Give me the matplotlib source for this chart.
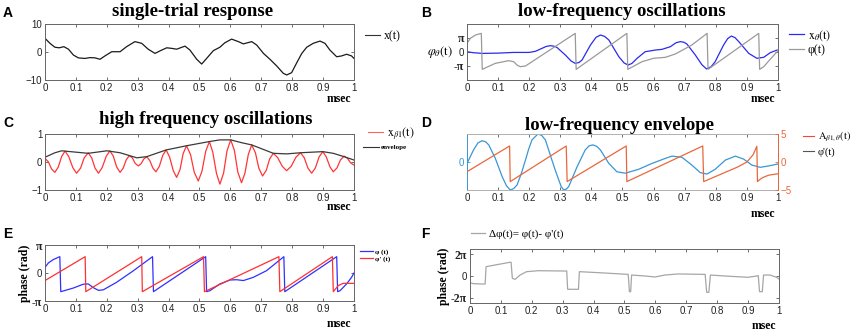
import numpy as np
import matplotlib
matplotlib.use('Agg')
import matplotlib.pyplot as plt
from matplotlib.lines import Line2D

plt.rcParams['font.family'] = 'Liberation Sans'
plt.rcParams['mathtext.fontset'] = 'stix'

PI = np.pi
W, H = 853, 335

# ---- data (time in msec, values in axis units) ----
# A: single-trial response x(t)
a_x = [(0, 4.9), (0.016, 3.1), (0.032, 1.7), (0.046, 1.5), (0.061, 1.9), (0.076, 1.0),
       (0.092, -1.1), (0.108, -2.1), (0.129, -2.3), (0.146, -2.0), (0.162, -2.1),
       (0.178, -2.6), (0.194, -1.4), (0.216, 0.1), (0.243, 0.1), (0.264, 1.9),
       (0.291, 3.7), (0.313, 3.1), (0.334, 1.0), (0.356, -0.5), (0.374, 0.5),
       (0.394, 1.5), (0.410, 1.3), (0.426, 1.0), (0.453, 2.1), (0.469, 0.7),
       (0.491, -2.6), (0.507, -4.3), (0.523, -2.3), (0.545, 0.5), (0.566, 1.7),
       (0.582, 3.3), (0.604, 4.6), (0.626, 3.7), (0.642, 2.9), (0.669, 3.7),
       (0.685, 2.5), (0.707, -0.5), (0.728, -2.6), (0.750, -5.0), (0.771, -7.6),
       (0.782, -8.2), (0.798, -7.4), (0.814, -4.0), (0.831, -0.5), (0.847, 1.7),
       (0.868, 3.1), (0.890, 3.9), (0.906, 3.1), (0.922, 0.7), (0.944, -1.7),
       (0.960, -1.4), (0.976, -0.8), (0.992, -1.4), (1.0, -2.3)]

# B: low-frequency oscillation x_theta(t) and phase phi(t), in units of pi
b_x = [(0, 0.02), (0.02, -0.05), (0.05, -0.1), (0.1, -0.08), (0.15, -0.03), (0.2, -0.03),
       (0.22, 0.05), (0.241, 0.26), (0.255, 0.4), (0.268, 0.45), (0.279, 0.42),
       (0.289, 0.33), (0.316, -0.21), (0.335, -0.65), (0.348, -0.81), (0.360, -0.75),
       (0.370, -0.57), (0.397, 0.5), (0.415, 1.05), (0.429, 1.21), (0.442, 1.12),
       (0.456, 0.86), (0.488, -0.33), (0.505, -0.78), (0.518, -0.93), (0.530, -0.82),
       (0.547, -0.45), (0.573, 0.02), (0.606, 0.14), (0.627, 0.19), (0.654, 0.38),
       (0.672, 0.66), (0.686, 0.74), (0.697, 0.70), (0.707, 0.57), (0.734, -0.21),
       (0.755, -0.9), (0.770, -1.21), (0.785, -1.05), (0.798, -0.69), (0.825, 0.5),
       (0.838, 0.95), (0.850, 1.14), (0.862, 1.02), (0.874, 0.74), (0.906, -0.1),
       (0.932, -0.45), (0.954, -0.38), (0.975, -0.05), (0.997, 0.14), (1.0, 0.1)]
b_phi = [(0, 0.62), (0.011, 0.98), (0.027, 1.21), (0.046, 1.33), (0.049, -1.24),
         (0.091, -0.81), (0.134, -0.62), (0.150, -0.69), (0.161, -0.93), (0.171, -1.05),
         (0.188, -1.0), (0.348, 1.33), (0.351, -1.24), (0.514, 1.33), (0.517, -1.24),
         (0.563, -0.69), (0.600, -0.45), (0.638, -0.38), (0.670, -0.14), (0.723, 0.5),
         (0.772, 1.33), (0.775, -1.24), (0.938, 1.33), (0.941, -1.24), (0.954, -1.05),
         (0.975, -0.52), (0.997, 0.02), (1.0, 0.14)]

# C: high frequency oscillation and its envelope
c_x = [(0, 0.13), (0.011, 0.005), (0.021, -0.245), (0.032, -0.37), (0.043, -0.18),
       (0.054, 0.20), (0.065, 0.39), (0.077, 0.19), (0.090, -0.20), (0.102, -0.40),
       (0.115, -0.22), (0.127, 0.15), (0.140, 0.33), (0.151, 0.15), (0.162, -0.22),
       (0.173, -0.40), (0.185, -0.20), (0.198, 0.20), (0.210, 0.40), (0.221, 0.21),
       (0.232, -0.18), (0.243, -0.37), (0.253, -0.22), (0.263, 0.08), (0.273, 0.23),
       (0.283, 0.14), (0.292, -0.05), (0.302, -0.14), (0.311, -0.06), (0.320, 0.11),
       (0.329, 0.19), (0.339, 0.055), (0.349, -0.215), (0.359, -0.35), (0.370, -0.155),
       (0.381, 0.235), (0.392, 0.43), (0.403, 0.185), (0.415, -0.305), (0.426, -0.55),
       (0.437, -0.27), (0.447, 0.30), (0.458, 0.58), (0.471, 0.265), (0.483, -0.365),
       (0.496, -0.68), (0.508, -0.33), (0.520, 0.38), (0.532, 0.73), (0.543, 0.35),
       (0.555, -0.41), (0.566, -0.79), (0.578, -0.395), (0.589, 0.395), (0.601, 0.79),
       (0.613, 0.41), (0.624, -0.36), (0.636, -0.74), (0.647, -0.40), (0.658, 0.27),
       (0.669, 0.61), (0.681, 0.33), (0.692, -0.22), (0.704, -0.50), (0.716, -0.30),
       (0.727, 0.11), (0.739, 0.31), (0.753, 0.155), (0.768, -0.155), (0.782, -0.31),
       (0.797, -0.15), (0.812, 0.17), (0.827, 0.33), (0.839, 0.15), (0.851, -0.22),
       (0.863, -0.40), (0.875, -0.21), (0.887, 0.18), (0.899, 0.37), (0.910, 0.19),
       (0.922, -0.17), (0.933, -0.35), (0.945, -0.21), (0.956, 0.07), (0.968, 0.21),
       (0.979, 0.13), (0.989, -0.03), (1.0, -0.11)]
c_env = [(0, 0.17), (0.032, 0.33), (0.054, 0.40), (0.092, 0.36), (0.140, 0.31),
         (0.200, 0.40), (0.243, 0.33), (0.297, 0.15), (0.329, 0.19), (0.392, 0.43),
         (0.458, 0.58), (0.532, 0.73), (0.566, 0.79), (0.601, 0.79), (0.636, 0.69),
         (0.669, 0.61), (0.739, 0.31), (0.782, 0.29), (0.827, 0.33), (0.899, 0.37),
         (0.933, 0.31), (0.968, 0.19), (1.0, 0.07)]

# D: low-frequency envelope (left axis) and its phase (right axis)
d_env = [(0, -0.05), (0.021, 0.43), (0.035, 0.68), (0.048, 0.76), (0.06, 0.72),
         (0.07, 0.61), (0.091, 0.13), (0.113, -0.52), (0.127, -0.85), (0.139, -1.0),
         (0.15, -0.95), (0.161, -0.82), (0.175, -0.4), (0.188, 0.07), (0.198, 0.45),
         (0.209, 0.79), (0.228, 1.0), (0.24, 0.95), (0.252, 0.79), (0.262, 0.45),
         (0.273, 0.07), (0.284, -0.3), (0.295, -0.64), (0.303, -0.88), (0.311, -1.0),
         (0.319, -0.97), (0.327, -0.88), (0.354, -0.17), (0.38, 0.43), (0.393, 0.58),
         (0.405, 0.61), (0.417, 0.56), (0.429, 0.43), (0.456, -0.05), (0.482, -0.35),
         (0.509, -0.40), (0.552, -0.26), (0.595, -0.05), (0.638, 0.13), (0.659, 0.21),
         (0.691, 0.17), (0.723, -0.11), (0.75, -0.38), (0.772, -0.43), (0.798, -0.26),
         (0.831, 0.07), (0.863, 0.21), (0.89, 0.10), (0.916, -0.11), (0.943, -0.19),
         (0.97, -0.14), (1.0, -0.07)]
d_phase = [(0, -1.73), (0.137, 2.86), (0.139, -3.5), (0.319, 2.86), (0.322, -3.5),
           (0.512, 2.86), (0.514, -3.5), (0.758, 2.86), (0.761, -3.5), (0.87, -0.9),
           (0.9, 0.0), (0.92, 1.3), (0.932, 2.8), (0.934, -3.5), (0.94, -3.2),
           (0.95, -2.8), (0.97, -2.35), (1.0, -2.1)]

# E: phase of x(t) and of the envelope, in units of pi
e_phi = [(0, 0.20), (0.011, 0.36), (0.027, 0.48), (0.043, 0.56), (0.048, 0.583),
         (0.051, -0.667), (0.092, -0.536), (0.124, -0.40), (0.140, -0.39), (0.156, -0.52),
         (0.173, -0.62), (0.189, -0.60), (0.232, -0.33), (0.286, 0.08), (0.348, 0.583),
         (0.351, -0.667), (0.520, 0.583), (0.523, -0.667), (0.534, -0.63), (0.566, -0.39),
         (0.599, -0.25), (0.620, -0.24), (0.642, -0.27), (0.674, -0.155), (0.717, 0.083),
         (0.773, 0.583), (0.776, -0.667), (0.944, 0.583), (0.947, -0.667), (0.955, -0.63),
         (0.976, -0.39), (0.992, -0.155), (1.0, 0.0)]
e_phi2 = [(0, -0.27), (0.130, 0.583), (0.132, -0.667), (0.313, 0.583), (0.315, -0.667),
          (0.513, 0.583), (0.516, -0.667), (0.757, 0.583), (0.760, -0.667), (0.930, 0.583),
          (0.933, -0.667), (0.949, -0.45), (0.965, -0.37), (1.0, -0.37)]

# F: phase difference, in units of pi
f_dphi = [(0, -0.62), (0.011, -0.71), (0.038, -0.74), (0.049, -0.74), (0.052, 0.86),
          (0.07, 0.96), (0.129, 1.27), (0.133, 1.27), (0.137, -0.22), (0.146, -0.31),
          (0.162, 0.09), (0.183, 0.40), (0.221, 0.49), (0.313, 0.46), (0.316, -1.23),
          (0.351, -1.23), (0.354, 0.40), (0.415, 0.31), (0.512, 0.15), (0.516, -1.45),
          (0.520, -1.45), (0.523, 0.09), (0.566, 0.0), (0.599, -0.09), (0.631, 0.09),
          (0.674, 0.19), (0.761, 0.15), (0.766, -1.51), (0.773, -1.51), (0.778, 0.09),
          (0.825, 0.0), (0.9, -0.12), (0.928, 0.0), (0.933, 0.03), (0.937, -1.45),
          (0.946, -1.45), (0.95, 0.09), (0.971, 0.09), (0.992, -0.12), (1.0, -0.28)]

x_ticks = [0, 0.1, 0.2, 0.3, 0.4, 0.5, 0.6, 0.7, 0.8, 0.9, 1]
x_tick_labels = ['0', '0.1', '0.2', '0.3', '0.4', '0.5', '0.6', '0.7', '0.8', '0.9', '1']

SERIF = 'Liberation Serif'
BLUE_D = '#3a96d4'
ORANGE_D = '#e8683c'


def xy(pairs, scale=1.0):
    t, v = zip(*pairs)
    return np.array(t), np.array(v) * scale


def rect(l, t, r, b):
    return [l / W, 1 - b / H, (r - l) / W, (b - t) / H]


def style(ax, msec_y):
    ax.set_xlim(0, 1)
    ax.set_xticks(x_ticks)
    ax.set_xticklabels(x_tick_labels)
    ax.tick_params(direction='in', length=2.5, width=0.6, top=True, right=True,
                   labelsize=7, pad=2, color='#555555', labelcolor='#222222')
    for s in ax.spines.values():
        s.set_color('#666666')
        s.set_linewidth(0.7)
    ax.text(0.99, msec_y, 'msec', transform=ax.transAxes, ha='right', va='center',
            fontfamily=SERIF, fontweight='bold', fontsize=8.5)


def pi_labels(ax, labels, size=8.5):
    ax.set_yticklabels(labels)
    for lbl in ax.get_yticklabels():
        if 'π' in lbl.get_text():
            lbl.set_fontfamily(SERIF)
            lbl.set_fontweight('bold')
            lbl.set_fontsize(size)


def title(x, y, s):
    fig.text(x / W, 1 - y / H, s, ha='center', va='center',
             fontfamily=SERIF, fontweight='bold', fontsize=13.5)


fig = plt.figure(figsize=(W / 100, H / 100), dpi=100)

# panel letters
for letter, px, py in [('A', 3, 13), ('B', 421, 13), ('C', 3, 123),
                       ('D', 421, 123), ('E', 3, 234), ('F', 421, 234)]:
    fig.text(px / W, 1 - py / H, letter, fontsize=10, fontweight='bold', va='center')

# ---------- A ----------
ax = fig.add_axes(rect(45, 24, 354, 80))
t, v = xy(a_x)
ax.plot(t, v, color='#1a1a1a', lw=0.9)
ax.set_ylim(-10, 10)
ax.set_yticks([-10, 0, 10])
style(ax, -0.34)
title(193, 11, 'single-trial response')
ax.legend([Line2D([], [], color='#333333', lw=0.8)], ['x(t)'], loc='upper left',
          bbox_to_anchor=(1.0, 1.08), frameon=False, handlelength=1.3, handletextpad=0.3,
          prop={'family': SERIF, 'size': 8.5})

# ---------- B ----------
ax = fig.add_axes(rect(467, 24, 778, 80))
t, v = xy(b_x, PI)
ax.plot(t, v, color='#2a2af0', lw=0.9, label=r'$\mathrm{x}_{\theta}\mathrm{(t)}$')
t, v = xy(b_phi, PI)
ax.plot(t, v, color='#9a9a9a', lw=0.9, label='φ(t)')
ax.set_ylim(-2 * PI, 2 * PI)
ax.set_yticks([-PI, 0, PI])
style(ax, -0.34)
pi_labels(ax, ['-π', '0', 'π'])
ax.set_ylabel(r'$\varphi_{\theta}\mathrm{(t)}$', rotation=0, fontsize=9, ha='right',
              va='center', labelpad=2)
ax.yaxis.set_label_coords(-0.045, 0.5)
title(622, 12, 'low-frequency oscillations')
ax.legend(loc='upper left', bbox_to_anchor=(1.0, 1.12), frameon=False, handlelength=1.3,
          handletextpad=0.3, labelspacing=0.1, prop={'family': SERIF, 'size': 8.5})

# ---------- C ----------
ax = fig.add_axes(rect(45, 134, 354, 190))
t, v = xy(c_x)
ax.plot(t, v, color='#ff3535', lw=0.9)
t, v = xy(c_env)
ax.plot(t, v, color='#3a3a3a', lw=0.9)
ax.set_ylim(-1, 1)
ax.set_yticks([-1, 0, 1])
style(ax, -0.30)
title(206, 120, 'high frequency oscillations')
fig.legend([Line2D([], [], color='#ff6060', lw=0.8)],
           [r'$\mathrm{x}_{\beta1}\mathrm{(t)}$'], loc='center left',
           bbox_to_anchor=(357 / W, 1 - 133 / H), frameon=False, handlelength=1.3,
           handletextpad=0.3, prop={'family': SERIF, 'size': 8.5})
fig.legend([Line2D([], [], color='#333333', lw=0.8)], ['envelope'], loc='center left',
           bbox_to_anchor=(357 / W, 1 - 147 / H), frameon=False, handlelength=2.2,
           handletextpad=0.3, prop={'family': SERIF, 'size': 5, 'weight': 'bold'})

# ---------- D ----------
ax = fig.add_axes(rect(467, 134, 778, 190))
t, v = xy(d_env)
ax.plot(t, v, color=BLUE_D, lw=0.9)
ax.set_ylim(-1, 1)
ax.set_yticks([0])
style(ax, -0.43)
ax.tick_params(axis='y', right=False, color=BLUE_D, labelcolor=BLUE_D)
ax.spines['left'].set_color(BLUE_D)
ax.spines['top'].set_color('#b0b0b0')
ax.spines['bottom'].set_color('#b0b0b0')
ax2 = ax.twinx()
t, v = xy(d_phase)
ax2.plot(t, v, color=ORANGE_D, lw=0.9)
ax2.set_ylim(-5, 5)
ax2.set_yticks([-5, 0, 5])
ax2.tick_params(axis='y', direction='in', length=2.5, width=0.6, labelsize=7, pad=2,
                color=ORANGE_D, labelcolor=ORANGE_D)
ax2.spines['right'].set_color(ORANGE_D)
ax2.spines['right'].set_linewidth(0.7)
for s in ['left', 'top', 'bottom']:
    ax2.spines[s].set_visible(False)
title(620, 125, 'low-frequency envelope')
fig.legend([Line2D([], [], color='#ff4040', lw=0.8), Line2D([], [], color='#555555', lw=0.8)],
           [r'$\mathrm{A}_{\beta1,\theta}\mathrm{(t)}$', "φ'(t)"], loc='upper left',
           bbox_to_anchor=(803 / W, 1 - 130 / H), frameon=False, handlelength=1.1,
           handletextpad=0.3, labelspacing=0.35, borderpad=0, borderaxespad=0,
           prop={'family': SERIF, 'size': 7.5})

# ---------- E ----------
ax = fig.add_axes(rect(45, 245, 354, 301))
t, v = xy(e_phi, PI)
ax.plot(t, v, color='#3030ff', lw=0.9, label='φ (t)')
t, v = xy(e_phi2, PI)
ax.plot(t, v, color='#ff3030', lw=0.9, label="φ' (t)")
ax.set_ylim(-PI, PI)
ax.set_yticks([-PI, 0, PI])
style(ax, -0.41)
pi_labels(ax, ['-π', '0', 'π'])
ax.set_ylabel('phase (rad)', fontfamily=SERIF, fontweight='bold', fontsize=8.5, labelpad=1)
ax.legend(loc='upper left', bbox_to_anchor=(1.0, 1.04), frameon=False, handlelength=1.8,
          handletextpad=0.3, labelspacing=0.1, prop={'family': SERIF, 'size': 5, 'weight': 'bold'})

# ---------- F ----------
ax = fig.add_axes(rect(470, 249, 779, 303))
t, v = xy(f_dphi, PI)
ax.plot(t, v, color='#a6a6a6', lw=0.9, label="Δφ(t)= φ(t)- φ'(t)")
ax.set_ylim(-2.5 * PI, 2.5 * PI)
ax.set_yticks([-2 * PI, 0, 2 * PI])
style(ax, -0.43)
pi_labels(ax, ['-2π', '0', '2π'])
ax.set_ylabel('phase (rad)', fontfamily=SERIF, fontweight='bold', fontsize=8.5, labelpad=1)
ax.legend(loc='lower left', bbox_to_anchor=(-0.03, 1.0), frameon=False, handlelength=1.3,
          handletextpad=0.3, prop={'family': SERIF, 'size': 8})

fig.savefig('out.png', dpi=100)
